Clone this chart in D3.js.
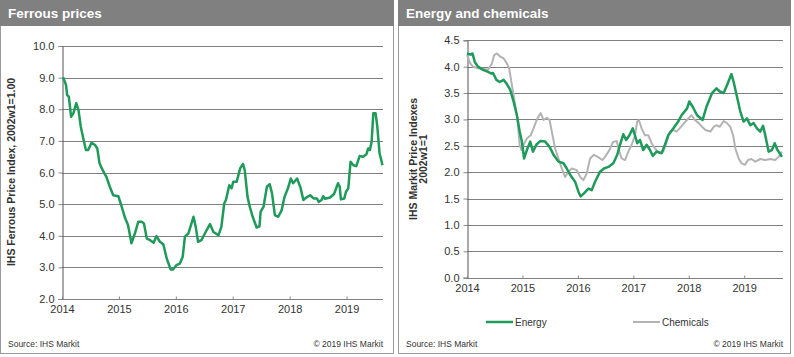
<!DOCTYPE html>
<html><head><meta charset="utf-8">
<script src="https://cdn.jsdelivr.net/npm/d3@7/dist/d3.min.js"></script>
<style>
body{margin:0;background:#fff;}
svg{display:block;font-family:"Liberation Sans",Arial,sans-serif;}
</style></head>
<body><svg id="c" width="794" height="357"></svg>
<script>
// ---------- DATA ----------
const ferrousT = [2014.02,2014.07,2014.09,2014.12,2014.16,2014.20,2014.25,2014.29,2014.33,2014.38,2014.42,2014.46,2014.52,2014.58,2014.62,2014.66,2014.70,2014.74,2014.78,2014.84,2014.90,2014.99,2015.05,2015.11,2015.16,2015.22,2015.28,2015.34,2015.40,2015.44,2015.49,2015.55,2015.61,2015.66,2015.72,2015.78,2015.84,2015.91,2015.95,2016.01,2016.07,2016.12,2016.16,2016.22,2016.31,2016.35,2016.39,2016.45,2016.51,2016.60,2016.66,2016.75,2016.80,2016.85,2016.88,2016.94,2016.98,2017.01,2017.07,2017.13,2017.18,2017.21,2017.26,2017.30,2017.35,2017.42,2017.47,2017.49,2017.54,2017.60,2017.65,2017.69,2017.74,2017.80,2017.86,2017.91,2017.97,2018.02,2018.06,2018.13,2018.19,2018.24,2018.31,2018.36,2018.42,2018.48,2018.51,2018.56,2018.59,2018.62,2018.71,2018.78,2018.85,2018.88,2018.90,2018.96,2018.99,2019.03,2019.07,2019.12,2019.17,2019.23,2019.29,2019.35,2019.38,2019.41,2019.44,2019.47,2019.51,2019.54,2019.58,2019.61,2019.63];
const ferrousV = [9.01,8.77,8.45,8.40,7.76,7.87,8.19,7.97,7.45,7.03,6.71,6.71,6.94,6.87,6.76,6.29,6.13,5.99,5.86,5.55,5.28,5.25,4.91,4.55,4.34,3.76,4.07,4.44,4.44,4.39,3.91,3.86,3.78,3.99,3.81,3.73,3.28,2.93,2.93,3.07,3.12,3.33,3.97,4.07,4.60,4.28,3.81,3.86,4.07,4.37,4.12,4.02,4.28,5.02,5.13,5.60,5.50,5.71,5.71,6.13,6.27,6.08,5.23,4.91,4.60,4.26,4.30,4.76,4.91,5.55,5.63,5.34,4.65,4.60,4.81,5.23,5.50,5.81,5.66,5.81,5.53,5.13,5.23,5.28,5.18,5.18,5.07,5.13,5.25,5.17,5.21,5.32,5.66,5.55,5.15,5.18,5.39,5.50,6.34,6.23,6.20,6.52,6.50,6.58,6.76,6.71,6.97,7.87,7.87,7.45,6.60,6.39,6.23];

const energyT = [2014.00,2014.06,2014.10,2014.14,2014.20,2014.29,2014.38,2014.44,2014.47,2014.53,2014.59,2014.66,2014.72,2014.78,2014.84,2014.90,2014.95,2014.99,2015.03,2015.08,2015.14,2015.19,2015.25,2015.32,2015.41,2015.49,2015.56,2015.65,2015.74,2015.80,2015.86,2015.95,2016.01,2016.05,2016.11,2016.19,2016.25,2016.31,2016.40,2016.47,2016.55,2016.64,2016.71,2016.76,2016.82,2016.87,2016.93,2016.99,2017.03,2017.07,2017.12,2017.18,2017.24,2017.30,2017.35,2017.42,2017.51,2017.57,2017.63,2017.72,2017.81,2017.87,2017.97,2018.01,2018.07,2018.15,2018.25,2018.32,2018.42,2018.50,2018.56,2018.63,2018.69,2018.77,2018.81,2018.87,2018.93,2018.99,2019.05,2019.11,2019.17,2019.23,2019.29,2019.34,2019.38,2019.44,2019.50,2019.55,2019.60,2019.64,2019.68];
const energyV = [4.25,4.23,4.25,4.09,4.00,3.94,3.90,3.87,3.88,3.75,3.71,3.75,3.67,3.56,3.34,3.08,2.77,2.58,2.26,2.42,2.58,2.39,2.52,2.59,2.58,2.48,2.33,2.20,2.17,2.07,1.95,1.82,1.63,1.54,1.60,1.69,1.66,1.82,2.01,2.07,2.10,2.17,2.33,2.52,2.72,2.61,2.70,2.83,2.70,2.55,2.61,2.42,2.52,2.42,2.31,2.39,2.36,2.52,2.70,2.83,2.96,3.08,3.21,3.34,3.24,3.08,2.99,3.24,3.50,3.59,3.53,3.50,3.65,3.86,3.71,3.43,3.15,2.96,3.02,2.89,2.93,2.83,2.77,2.88,2.70,2.39,2.42,2.55,2.42,2.36,2.29];

const chemT = [2014.00,2014.06,2014.11,2014.20,2014.29,2014.38,2014.45,2014.49,2014.54,2014.60,2014.66,2014.72,2014.76,2014.81,2014.87,2014.91,2014.95,2014.98,2015.02,2015.08,2015.15,2015.21,2015.27,2015.33,2015.38,2015.44,2015.49,2015.53,2015.59,2015.65,2015.71,2015.77,2015.83,2015.89,2015.98,2016.04,2016.10,2016.16,2016.22,2016.29,2016.36,2016.44,2016.49,2016.57,2016.63,2016.70,2016.75,2016.79,2016.85,2016.91,2016.97,2017.03,2017.07,2017.10,2017.15,2017.21,2017.27,2017.33,2017.39,2017.47,2017.54,2017.60,2017.66,2017.72,2017.78,2017.86,2017.95,2018.05,2018.11,2018.18,2018.24,2018.30,2018.39,2018.45,2018.50,2018.56,2018.63,2018.69,2018.75,2018.80,2018.84,2018.90,2018.95,2019.01,2019.07,2019.13,2019.20,2019.29,2019.38,2019.47,2019.56,2019.62,2019.68];
const chemV = [4.22,4.06,4.00,3.97,3.96,3.94,4.06,4.22,4.25,4.19,4.16,4.06,3.97,3.65,3.27,3.02,2.52,2.42,2.52,2.64,2.70,2.86,3.02,3.12,2.99,3.03,2.99,2.77,2.45,2.26,2.07,1.91,2.01,2.07,2.04,1.91,1.85,1.98,2.26,2.33,2.29,2.23,2.29,2.42,2.57,2.59,2.39,2.26,2.23,2.39,2.52,2.70,2.96,2.99,2.83,2.70,2.70,2.55,2.45,2.36,2.39,2.58,2.77,2.80,2.77,2.86,2.97,3.08,2.99,2.93,2.86,2.80,2.77,2.86,2.89,2.86,2.97,2.93,2.86,2.70,2.45,2.26,2.17,2.14,2.23,2.25,2.20,2.25,2.23,2.25,2.23,2.29,2.39];

const years = [2014,2015,2016,2017,2018,2019];
const ferrousTicks = [2,3,4,5,6,7,8,9,10];
const indexTicks = [0,0.5,1,1.5,2,2.5,3,3.5,4,4.5];

// ---------- DRAW ----------
const svg = d3.select("#c");
const GREEN = "#1e9a5a", GRAY = "#b3b3b3", HEAD = "#808080", GRID = "#7f7f7f", TXT = "#333";

function panel(x0, x1, title){
  svg.append("rect").attr("x",x0+0.5).attr("y",0.5).attr("width",x1-x0-1).attr("height",353)
    .attr("fill","#fff").attr("stroke","#9a9a9a");
  svg.append("rect").attr("x",x0).attr("y",0).attr("width",x1-x0).attr("height",26).attr("fill",HEAD);
  svg.append("text").attr("x",x0+8).attr("y",18).attr("fill","#fff")
    .attr("font-size",13.5).attr("font-weight","bold").text(title);
}
panel(0,394,"Ferrous prices");
panel(398,791,"Energy and chemicals");

function chart(o){
  const x = d3.scaleLinear().domain(o.xd).range(o.xr);
  const y = d3.scaleLinear().domain(o.yd).range(o.yr);
  const g = svg.append("g");
  // grid
  g.append("g").selectAll("line").data(o.yticks).join("line")
    .attr("x1",o.xr[0]).attr("x2",o.xr[1])
    .attr("y1",d=>Math.round(y(d))+0.5).attr("y2",d=>Math.round(y(d))+0.5)
    .attr("stroke",GRID).attr("stroke-width",1);
  // y axis
  const ya = g.append("g").attr("transform",`translate(${Math.round(o.xr[0])+0.5},0)`)
    .call(d3.axisLeft(y).tickValues(o.yticks).tickFormat(o.yfmt).tickSize(4).tickPadding(4));
  ya.select(".domain").attr("stroke","#555");
  ya.selectAll(".tick line").attr("stroke","#888");
  ya.selectAll("text").attr("font-size",11).attr("fill",TXT).attr("font-family","Liberation Sans, Arial, sans-serif");
  // x axis
  const xa = g.append("g").attr("transform",`translate(0,${Math.round(o.yr[0])+0.5})`)
    .call(d3.axisBottom(x).tickValues(years).tickFormat(d3.format("d")).tickSize(-3).tickPadding(6));
  xa.select(".domain").remove();
  xa.selectAll(".tick line").attr("stroke","#888");
  xa.selectAll("text").attr("font-size",11).attr("fill",TXT).attr("font-family","Liberation Sans, Arial, sans-serif");
  // lines
  o.series.forEach(s=>{
    const pts = s.t.map((t,i)=>[t,s.v[i]]);
    g.append("path").datum(pts)
      .attr("d",d3.line().x(d=>x(d[0])).y(d=>y(d[1])))
      .attr("fill","none").attr("stroke",s.color).attr("stroke-width",s.w)
      .attr("stroke-linejoin","round");
  });
  return {x,y};
}

chart({xd:[2014,2019.64], xr:[62,383], yd:[2,10], yr:[299,46], yticks:ferrousTicks,
  yfmt:d3.format(".1f"),
  series:[{t:ferrousT,v:ferrousV,color:GREEN,w:2.5}]});

chart({xd:[2014,2019.70], xr:[467,783], yd:[0,4.5], yr:[277.7,40.3], yticks:indexTicks,
  yfmt:d3.format(".1f"),
  series:[{t:chemT,v:chemV,color:GRAY,w:2},{t:energyT,v:energyV,color:GREEN,w:2.5}]});

// axis titles
svg.append("text").attr("transform","translate(15,172) rotate(-90)")
  .attr("text-anchor","middle").attr("font-size",10.5).attr("font-weight","bold").attr("fill",TXT)
  .text("IHS Ferrous Price Index, 2002w1=1.00");
const rt = svg.append("text").attr("transform","translate(417,159) rotate(-90)")
  .attr("text-anchor","middle").attr("font-size",10.5).attr("font-weight","bold").attr("fill",TXT);
rt.append("tspan").attr("x",0).attr("dy",0).text("IHS Markit Price Indexes");
rt.append("tspan").attr("x",0).attr("dy",10).text("2002w1=1");

// legend
const leg = [{name:"Energy",color:GREEN,w:2.5,x:486},{name:"Chemicals",color:GRAY,w:2,x:633}];
leg.forEach(l=>{
  svg.append("line").attr("x1",l.x).attr("x2",l.x+27).attr("y1",322).attr("y2",322)
    .attr("stroke",l.color).attr("stroke-width",l.w);
  svg.append("text").attr("x",l.x+29).attr("y",326).attr("font-size",10).attr("fill",TXT).text(l.name);
});

// footers
[[8,383],[406,783]].forEach(([a,b])=>{
  svg.append("text").attr("x",a).attr("y",347).attr("font-size",8.5).attr("fill",TXT).text("Source:  IHS Markit");
  svg.append("text").attr("x",b).attr("y",347).attr("text-anchor","end").attr("font-size",8.5).attr("fill",TXT).text("© 2019  IHS Markit");
});
</script></body></html>
